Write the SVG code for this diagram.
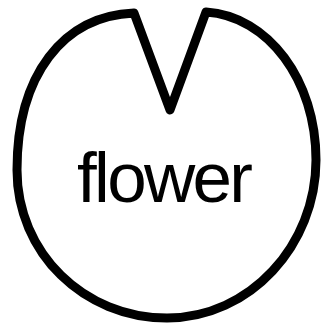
<svg xmlns="http://www.w3.org/2000/svg" width="321" height="326" viewBox="0 0 321 326">
<style>
.outline{fill:#fff;stroke:#000;stroke-width:9;stroke-linejoin:round;stroke-linecap:round}
.label{font-family:"Liberation Sans",Arial,sans-serif;font-size:71px;fill:#000}
</style>
<rect width="321" height="326" fill="#fff"/>
<g id="flower">
<path class="outline" d="M134,13 C63,16 17,75 17,170 C17,253 84,318 167,318 C250,318 316,245 316,160 C316,80 268,16 206,12 L170,110 Z"/>
<text class="label" x="165" y="202" text-anchor="middle" textLength="176" lengthAdjust="spacing">flower</text>
</g>
</svg>
